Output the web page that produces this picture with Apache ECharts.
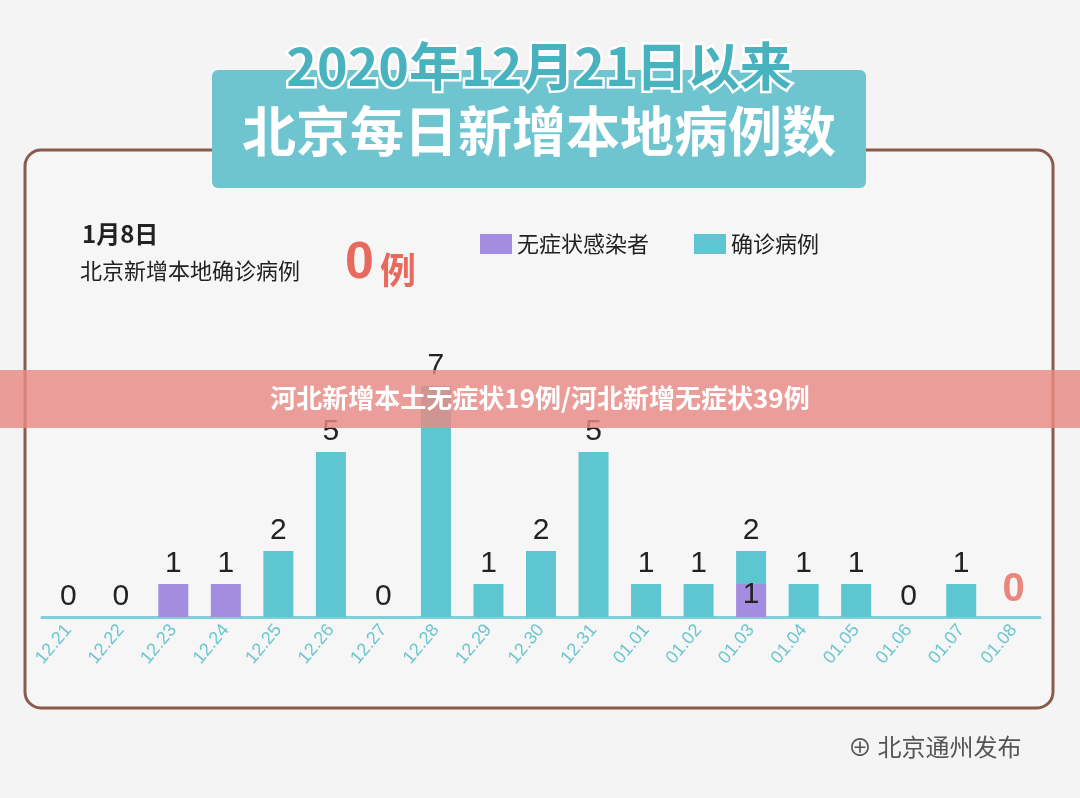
<!DOCTYPE html>
<html><head><meta charset="utf-8">
<script src="https://cdn.jsdelivr.net/npm/echarts@6/dist/echarts.min.js"></script>
<style>html,body{margin:0;background:#f4f4f4}#c{width:1080px;height:798px}</style>
</head><body><div id="c"></div>
<script>
const categories=['12.21','12.22','12.23','12.24','12.25','12.26','12.27','12.28','12.29','12.30','12.31','01.01','01.02','01.03','01.04','01.05','01.06','01.07','01.08'];
const asymptomatic=[0,0,1,1,0,0,0,0,0,0,0,0,0,1,0,0,0,0,0];
const confirmed=[0,0,0,0,2,5,0,7,1,2,5,1,1,1,1,1,0,1,0];
const F='"Noto Sans CJK SC",sans-serif';
const N='"Liberation Sans",Arial,sans-serif';
const chart=echarts.init(document.getElementById('c'));
const totals=categories.map((c,i)=>asymptomatic[i]+confirmed[i]);
chart.setOption({
  backgroundColor:'#f4f4f4',
  animation:false,
  legend:{data:['无症状感染者','确诊病例'],left:475,top:228,itemWidth:32,itemHeight:20,itemGap:45,
    textStyle:{fontFamily:F,fontSize:22,color:'#222'},icon:'rect'},
  grid:{left:42,right:40,top:287,bottom:181},
  xAxis:{type:'category',data:categories,axisTick:{show:false},
    axisLine:{lineStyle:{color:'#7dd0d8',width:3}},
    axisLabel:{rotate:50,color:'#6cc6cf',fontSize:18,fontFamily:N,margin:10,interval:0}},
  yAxis:{type:'value',min:0,max:10,show:false},
  series:[
    {name:'无症状感染者',type:'bar',stack:'a',barWidth:30,itemStyle:{color:'#a48ce0'},data:asymptomatic,
      label:{show:true,position:'top',fontSize:30,color:'#222',fontFamily:N,
        formatter:p=>(confirmed[p.dataIndex]===0&&asymptomatic[p.dataIndex]>0)?p.value:''}},
    {name:'确诊病例',type:'bar',stack:'a',barWidth:30,itemStyle:{color:'#5dc6d0'},data:confirmed,
      label:{show:true,position:'top',fontSize:30,fontFamily:N,color:'#222',
        formatter:p=>{const i=p.dataIndex;if(asymptomatic[i]>0&&confirmed[i]===0)return '';if(i===18)return '';return totals[i];}}},
    {name:'inner',type:'bar',stack:'b',barGap:'-100%',barWidth:30,data:asymptomatic,
      itemStyle:{color:'transparent'},silent:true,
      label:{show:true,position:'inside',offset:[0,-6],fontSize:30,fontFamily:N,color:'#222',
        formatter:p=>(p.value>0&&confirmed[p.dataIndex]>0)?p.value:''}},
    {name:'last',type:'scatter',data:[[18,0]],symbolSize:0,
      label:{show:true,position:'top',offset:[0,-2],fontSize:40,fontWeight:'bold',color:'#e86a5e',fontFamily:N,formatter:'0'}}
  ],
  graphic:[
    {type:'rect',z:-1,shape:{x:25,y:150,width:1028,height:558,r:16},style:{fill:'#f6f6f6',stroke:'#8a5a4a',lineWidth:3}},
    {type:'rect',shape:{x:212,y:70,width:654,height:118,r:6},style:{fill:'#6ec5cf'}},
    {type:'text',z:10,style:{x:539,y:40,text:'2020年12月21日以来',font:'bold 52px '+F,fill:'#48b3bf',stroke:'#fff',lineWidth:5,align:'center'}},
    {type:'text',z:10,style:{x:539,y:104,text:'北京每日新增本地病例数',font:'bold 54px '+F,fill:'#fff',align:'center'}},
    {type:'text',style:{x:82,y:222,text:'1月8日',font:'bold 24px '+F,fill:'#222'}},
    {type:'text',style:{x:80,y:260,text:'北京新增本地确诊病例',font:'22px '+F,fill:'#222'}},
    {type:'text',style:{x:345,y:238,text:'0',font:'bold 52px '+N,fill:'#e86a5e'}},
    {type:'text',style:{x:380,y:252,text:'例',font:'bold 36px '+F,fill:'#e86a5e'}},
    {type:'rect',z:50,shape:{x:0,y:370,width:1080,height:58},style:{fill:'rgba(232,138,132,0.82)'}},
    {type:'text',z:51,style:{x:540,y:385,text:'河北新增本土无症状19例/河北新增无症状39例',font:'bold 26px '+F,fill:'#fff',align:'center'}},
    {type:'text',style:{x:848,y:735,text:'⊕ 北京通州发布',font:'24px '+F,fill:'#555'}}
  ]
});
</script></body></html>
